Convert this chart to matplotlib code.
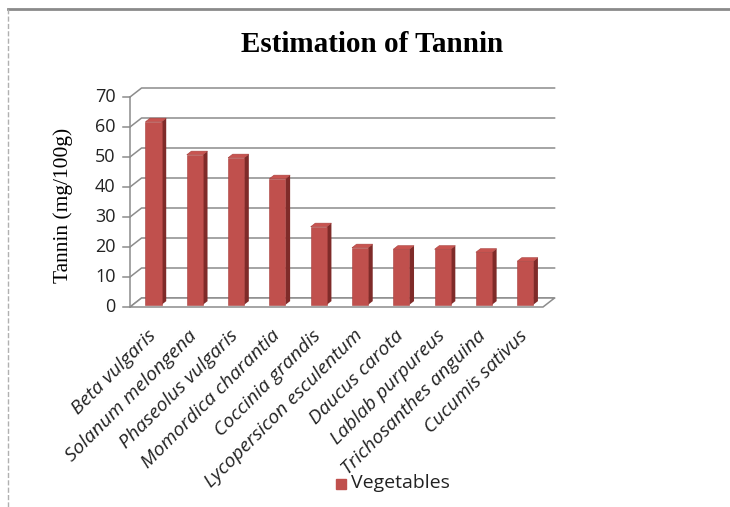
import matplotlib.pyplot as plt
from matplotlib.patches import Polygon
import numpy as np

# Data
vegetables = ["Beta vulgaris", "Solanum melongena", "Phaseolus vulgaris",
              "Momordica charantia", "Coccinia grandis", "Lycopersicon esculentum",
              "Daucus carota", "Lablab purpureus", "Trichosanthes anguina",
              "Cucumis sativus"]
tannin = [61, 50, 49, 42, 26, 19, 18.5, 18.5, 17.5, 14.5]
y_ticks = [0, 10, 20, 30, 40, 50, 60, 70]

# fake 3D geometry (data units)
ddx, ddy = 0.28, 3.0        # depth of the floor / walls
f0, f1 = 0.25, 0.65         # bar front/back as fraction of depth
w = 0.39                    # bar width
front_c, side_c, top_c = "#c0504d", "#7f2b29", "#c85450"
grid_c = "#8c8c8c"

fig = plt.figure(figsize=(7.3, 5.07), dpi=100)
ax = fig.add_axes([0, 0, 1, 1])
ax.axis("off")
px_x, px_y = 41.3, 3.0
ax.set_xlim(-0.5 - 130 / px_x, -0.5 + 600 / px_x)
ax.set_ylim(-200 / px_y, 307 / px_y)

n = len(vegetables)
x0, x1 = -0.5, n - 0.5

# walls and gridlines
for v in y_ticks:
    ax.plot([x0, x0 + ddx, x1 + ddx], [v, v + ddy, v + ddy], color=grid_c, lw=1.1, zorder=1)
    ax.plot([x0 - 0.17, x0], [v, v], color=grid_c, lw=1.1, zorder=1)
    ax.text(x0 - 0.35, v, str(v), ha="right", va="center", fontsize=13,
            family="Open Sans", color="#222222")
ax.plot([x0, x0], [0, y_ticks[-1]], color=grid_c, lw=1.1, zorder=1)

# floor
floor = Polygon([(x0, 0), (x1, 0), (x1 + ddx, ddy), (x0 + ddx, ddy)],
                closed=True, facecolor="white", edgecolor=grid_c, lw=1.1, zorder=2)
ax.add_patch(floor)

# bars
xs = np.arange(n)
ax.bar(xs + f0 * ddx, tannin, width=w, bottom=f0 * ddy, color=front_c,
       edgecolor="#a8403d", lw=0.4, zorder=5)
for x, v in zip(xs, tannin):
    xr = x + f0 * ddx + w / 2
    xl = x + f0 * ddx - w / 2
    yb, yt = f0 * ddy, f0 * ddy + v
    dx, dy = (f1 - f0) * ddx, (f1 - f0) * ddy
    side = Polygon([(xr, yb), (xr + dx, yb + dy), (xr + dx, yt + dy), (xr, yt)],
                   closed=True, facecolor=side_c, edgecolor="none", zorder=4)
    top = Polygon([(xl, yt), (xr, yt), (xr + dx, yt + dy), (xl + dx, yt + dy)],
                  closed=True, facecolor=top_c, edgecolor="#a8403d", lw=0.4, zorder=4)
    ax.add_patch(side)
    ax.add_patch(top)

# category labels
for x, name in zip(xs, vegetables):
    ax.text(x - 0.1, -6.5, name, rotation=45, rotation_mode="anchor",
            ha="right", va="top", fontsize=14, style="italic",
            family="Open Sans", color="#222222")

# title, y label, legend
fig.text(0.51, 0.912, "Estimation of Tannin", ha="center", va="center",
         fontsize=21, fontweight="bold", family="Liberation Serif")
fig.text(0.086, 0.595, "Tannin (mg/100g)", rotation=90, ha="center", va="center",
         fontsize=15.5, family="Liberation Serif")
fig.patches.append(plt.Rectangle((336 / 730, 1 - 489 / 507), 10 / 730, 10 / 507,
                                 transform=fig.transFigure, color=front_c))
fig.text(351 / 730, 1 - 483 / 507, "Vegetables", ha="left", va="center",
         fontsize=14, family="Open Sans", color="#222222")

# chart frame (top and left edges only visible)
fig.add_artist(plt.Line2D([8 / 730, 1], [1 - 9 / 507, 1 - 9 / 507],
                          transform=fig.transFigure, color="#8a8a8a", lw=2))
fig.add_artist(plt.Line2D([8 / 730, 8 / 730], [0, 1 - 9 / 507],
                          transform=fig.transFigure, color="#b0b0b0", lw=1, ls="--"))

fig.savefig("out.png", dpi=100)
